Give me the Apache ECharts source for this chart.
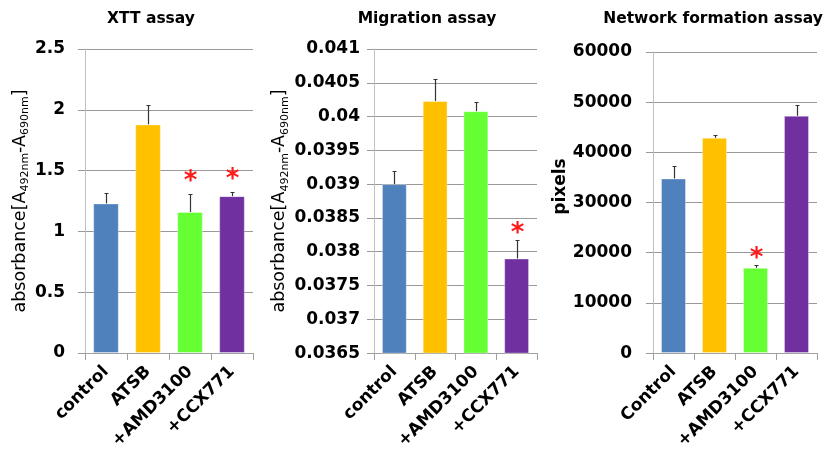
<!DOCTYPE html>
<html>
<head>
<meta charset="utf-8">
<script src="https://cdn.jsdelivr.net/npm/echarts@6/dist/echarts.min.js"></script>
<style>
  html, body { margin: 0; padding: 0; background: #ffffff; }
  #chart { width: 828px; height: 452px; }
</style>
</head>
<body>
<div id="chart"></div>
<script>
// Treatment groups (the network panel capitalises "Control")
const categories = ['control', 'ATSB', '+AMD3100', '+CCX771'];
const networkCategories = ['Control', 'ATSB', '+AMD3100', '+CCX771'];
const barColors = ['#4f81bd', '#ffc000', '#66ff33', '#7030a0'];

// XTT assay: absorbance (A492nm - A690nm), mean and upper error
const xttMean = [1.23, 1.88, 1.16, 1.29];
const xttErr = [0.085, 0.16, 0.145, 0.03];
const xttSig = [0, 0, 1, 1];

// Migration assay: absorbance (A492nm - A690nm)
const migMean = [0.0390, 0.04023, 0.04008, 0.0379];
const migErr = [0.0002, 0.00033, 0.00014, 0.00027];
const migSig = [0, 0, 0, 1];

// Network formation assay: pixels
const netMean = [34800, 42900, 17000, 47300];
const netErr = [2500, 500, 600, 2100];
const netSig = [0, 0, 1, 0];

const FONT = 'DejaVu Sans';
const absorbanceName = '{m|absorbance[A}{s|492nm}{m|-A}{s|690nm}{m|]}';
const absorbanceRich = {
  m: { fontFamily: FONT, fontSize: 17.5, color: '#000', lineHeight: 22, verticalAlign: 'middle' },
  s: { fontFamily: FONT, fontSize: 11, color: '#000', lineHeight: 11, verticalAlign: 'bottom' }
};

const panels = [
  { title: 'XTT assay', titleX: 151, cats: categories, mean: xttMean, err: xttErr, sig: xttSig,
    grid: { left: 85, top: 49, width: 168, height: 304 },
    y: { min: 0, max: 2.5, interval: 0.5, dec: 1 }, labelMargin: 20,
    name: absorbanceName, rich: absorbanceRich, nameGap: 52, starGap: 12 },
  { title: 'Migration assay', titleX: 427, cats: categories, mean: migMean, err: migErr, sig: migSig,
    grid: { left: 374, top: 49, width: 163, height: 305 },
    y: { min: 0.0365, max: 0.041, interval: 0.0005, dec: 4 }, labelMargin: 14,
    name: absorbanceName, rich: absorbanceRich, nameGap: 80, starGap: 6 },
  { title: 'Network formation assay', titleX: 713, cats: networkCategories, mean: netMean, err: netErr, sig: netSig,
    grid: { left: 653, top: 52, width: 164, height: 304 },
    y: { min: 0, max: 60000, interval: 10000, dec: 0 }, labelMargin: 21,
    name: 'pixels', rich: null, nameGap: 77, starGap: 6 }
];

// Upper error whisker with a short cap, plus a red asterisk for significant groups
function errorBars(starGap) {
  return function (params, api) {
    const p0 = api.coord([api.value(0), api.value(1)]);
    const p1 = api.coord([api.value(0), api.value(2)]);
    const x = Math.round(p0[0]) + 0.5;
    const yTop = Math.round(p1[1]) + 0.5;
    const children = [
      { type: 'line', shape: { x1: x, y1: p0[1], x2: x, y2: yTop }, style: { stroke: '#333333', lineWidth: 1.2 } },
      { type: 'line', shape: { x1: x - 2, y1: yTop, x2: x + 2, y2: yTop }, style: { stroke: '#333333', lineWidth: 1 } }
    ];
    if (api.value(3)) {
      children.push({
        type: 'text', x: x, y: yTop - starGap,
        style: { text: '*', fill: '#ff1a1a', font: 'bold 26px "' + FONT + '"', align: 'center', verticalAlign: 'middle' }
      });
    }
    return { type: 'group', children: children };
  };
}

const option = {
  animation: false,
  backgroundColor: '#ffffff',
  title: [], grid: [], xAxis: [], yAxis: [], series: []
};

panels.forEach(function (p, k) {
  option.title.push({
    text: p.title, left: p.titleX, top: 11, textAlign: 'center', padding: 0,
    textStyle: { fontFamily: FONT, fontSize: 15.5, fontWeight: 'bold', color: '#000' }
  });
  option.grid.push(Object.assign({ containLabel: false }, p.grid));
  option.xAxis.push({
    type: 'category', gridIndex: k, data: p.cats,
    axisLine: { lineStyle: { color: '#a0a0a0', width: 1 } },
    axisTick: { show: true, length: 7, alignWithLabel: false, lineStyle: { color: '#a0a0a0' } },
    axisLabel: { rotate: 45, margin: 16, interval: 0, fontFamily: FONT, fontSize: 17, fontWeight: 'bold', color: '#000' }
  });
  const yAxis = {
    type: 'value', gridIndex: k, min: p.y.min, max: p.y.max, interval: p.y.interval,
    name: p.name, nameLocation: 'middle', nameRotate: 90, nameGap: p.nameGap,
    axisLine: { show: true, lineStyle: { color: '#c0c0c0', width: 1 } },
    axisTick: { show: true, length: 7, inside: false, lineStyle: { color: '#999999' } },
    splitLine: { show: true, lineStyle: { color: '#999999', width: 1 } },
    axisLabel: {
      margin: p.labelMargin, fontFamily: FONT, fontSize: 17, fontWeight: 'bold', color: '#000',
      formatter: function (v) { return String(+v.toFixed(p.y.dec)); }
    }
  };
  yAxis.nameTextStyle = p.rich
    ? { rich: p.rich }
    : { fontFamily: FONT, fontSize: 17, fontWeight: 'bold', color: '#000', padding: [0, 0, 0, 32] };
  option.yAxis.push(yAxis);

  option.series.push({
    type: 'bar', xAxisIndex: k, yAxisIndex: k, barWidth: '61%', clip: true,
    data: p.mean.map(function (v, i) {
      return { value: v, itemStyle: { color: barColors[i], borderColor: 'rgba(255,255,255,0.35)', borderWidth: 1 } };
    })
  });
  option.series.push({
    type: 'custom', xAxisIndex: k, yAxisIndex: k, z: 5,
    renderItem: errorBars(p.starGap),
    encode: { x: 0, y: 1 },
    data: p.mean.map(function (v, i) { return [i, v, v + p.err[i], p.sig[i]]; })
  });
});

const chart = echarts.init(document.getElementById('chart'), null, { renderer: 'canvas' });
chart.setOption(option);
</script>
</body>
</html>
